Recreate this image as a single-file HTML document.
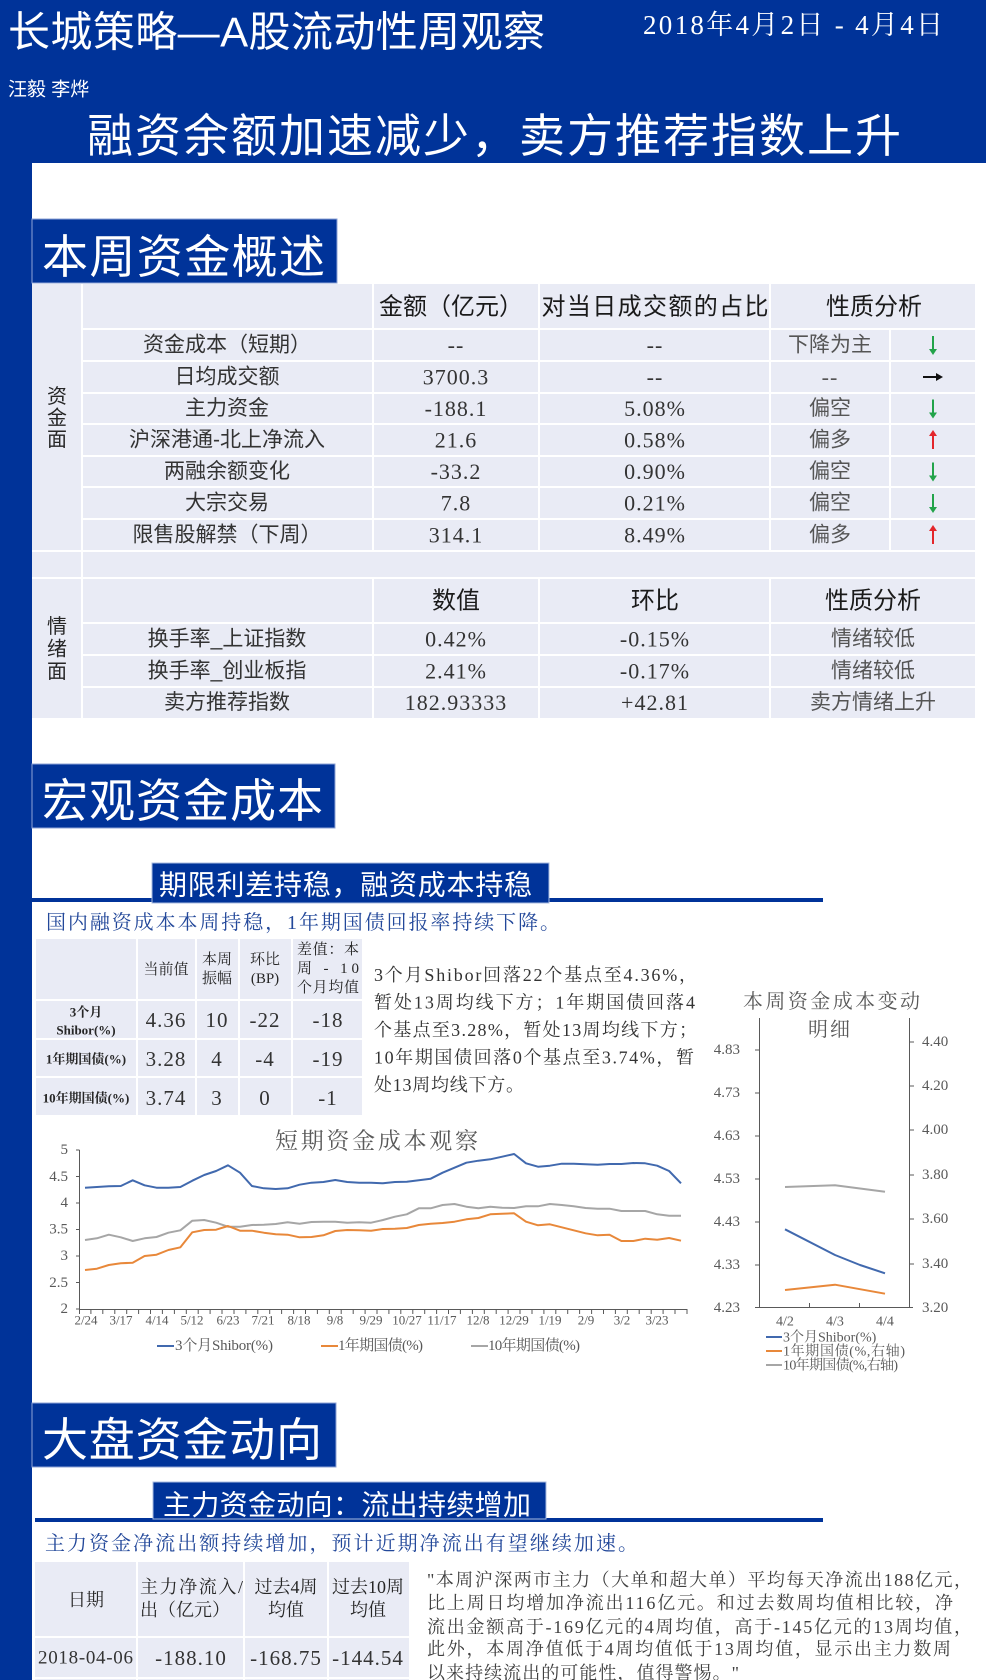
<!DOCTYPE html>
<html><head><meta charset="utf-8">
<style>
html,body{margin:0;padding:0;background:#fff;}
body{width:986px;height:1680px;overflow:hidden;position:relative;}
svg{position:absolute;left:0;top:0;}
.s{font-family:"Liberation Sans","Noto Sans CJK SC",sans-serif;}
.r{font-family:"Liberation Serif","Noto Serif CJK SC",serif;}
.w{fill:#fff;}
text{dominant-baseline:central;}
</style></head>
<body>
<svg width="986" height="1680" viewBox="0 0 986 1680" xmlns="http://www.w3.org/2000/svg">
<!-- header -->
<rect x="0" y="0" width="986" height="163" fill="#003399"/>
<rect x="0" y="0" width="32" height="1680" fill="#003399"/>
<text class="s w" x="8" y="32" font-size="42" textLength="537" lengthAdjust="spacing">长城策略—A股流动性周观察</text>
<text class="r w" x="643" y="25" font-size="27" textLength="300" lengthAdjust="spacing">2018年4月2日 - 4月4日</text>
<text class="s w" x="8" y="90" font-size="19">汪毅 李烨</text>
<text class="s w" x="87" y="136" font-size="46" textLength="814" lengthAdjust="spacing">融资余额加速减少，卖方推荐指数上升</text>

<!-- section 1 -->
<rect x="32" y="219" width="305" height="64" fill="#003399" stroke="#8ea3d6" stroke-width="1"/>
<text class="s w" x="42" y="257" font-size="46" textLength="283" lengthAdjust="spacing">本周资金概述</text>

<rect x="32" y="284" width="943" height="434" fill="#e9ebf5"/>
<g stroke="#fff" stroke-width="2">
<path d="M82 329H975M82 361H975M82 393H975M82 424H975M82 456H975M82 487H975M82 519H975M32 551H975M32 578H975M82 623H975M82 655H975M82 687H975"/>
<path d="M82 284V718M373 284V551M539 284V551M770 284V551M890 329V551M373 578V718M539 578V718M770 578V718"/>
</g>
<g class="s" fill="#262626" font-size="20" text-anchor="middle">
<text x="57" y="397">资</text><text x="57" y="418.5">金</text><text x="57" y="440">面</text>
<text x="57" y="627">情</text><text x="57" y="649.5">绪</text><text x="57" y="672">面</text>
</g>
<g class="s" fill="#1a1a1a" font-size="24" text-anchor="middle">
<text x="451" y="307">金额（亿元）</text>
<text x="655" y="307" textLength="227" lengthAdjust="spacing">对当日成交额的占比</text>
<text x="874" y="307">性质分析</text>
<text x="456" y="601">数值</text>
<text x="655" y="601">环比</text>
<text x="873" y="601">性质分析</text>
</g>
<g class="s" fill="#333" font-size="21" text-anchor="middle">
<text x="227" y="345">资金成本（短期）</text>
<text x="227" y="377">日均成交额</text>
<text x="227" y="408.5">主力资金</text>
<text x="227" y="440">沪深港通-北上净流入</text>
<text x="227" y="471.5">两融余额变化</text>
<text x="227" y="503">大宗交易</text>
<text x="227" y="535">限售股解禁（下周）</text>
<text x="227" y="639">换手率_上证指数</text>
<text x="227" y="671">换手率_创业板指</text>
<text x="227" y="702.5">卖方推荐指数</text>
<text x="830" y="345" fill="#555">下降为主</text>
<text x="830" y="408.5" fill="#555">偏空</text>
<text x="830" y="440" fill="#555">偏多</text>
<text x="830" y="471.5" fill="#555">偏空</text>
<text x="830" y="503" fill="#555">偏空</text>
<text x="830" y="535" fill="#555">偏多</text>
<text x="873" y="639" fill="#555">情绪较低</text>
<text x="873" y="671" fill="#555">情绪较低</text>
<text x="873" y="702.5" fill="#555">卖方情绪上升</text>
</g>
<g class="r" fill="#333" font-size="22" text-anchor="middle" letter-spacing="1">
<text x="456" y="345">--</text><text x="655" y="345">--</text>
<text x="456" y="377">3700.3</text><text x="655" y="377">--</text><text x="830" y="377" fill="#555">--</text>
<text x="456" y="408.5">-188.1</text><text x="655" y="408.5">5.08%</text>
<text x="456" y="440">21.6</text><text x="655" y="440">0.58%</text>
<text x="456" y="471.5">-33.2</text><text x="655" y="471.5">0.90%</text>
<text x="456" y="503">7.8</text><text x="655" y="503">0.21%</text>
<text x="456" y="535">314.1</text><text x="655" y="535">8.49%</text>
<text x="456" y="639">0.42%</text><text x="655" y="639">-0.15%</text>
<text x="456" y="671">2.41%</text><text x="655" y="671">-0.17%</text>
<text x="456" y="702.5">182.93333</text><text x="655" y="702.5">+42.81</text>
</g>
<!-- arrows -->
<g stroke-width="2">
<g stroke="#22a34a" fill="#22a34a">
<path d="M933 336V350"/><polygon points="929,349 937,349 933,355" stroke="none"/>
<path d="M933 399.5V413.5"/><polygon points="929,412.5 937,412.5 933,418.5" stroke="none"/>
<path d="M933 462.5V476.5"/><polygon points="929,475.5 937,475.5 933,481.5" stroke="none"/>
<path d="M933 494V508"/><polygon points="929,507 937,507 933,513" stroke="none"/>
</g>
<g stroke="#e3262b" fill="#e3262b">
<path d="M933 435V449"/><polygon points="929,436 937,436 933,430" stroke="none"/>
<path d="M933 530V544"/><polygon points="929,531 937,531 933,525" stroke="none"/>
</g>
<g stroke="#111" fill="#111">
<path d="M923 377H937"/><polygon points="936,373 936,381 943,377" stroke="none"/>
</g>
</g>

<!-- section 2 -->
<rect x="32" y="764" width="303" height="64" fill="#003399" stroke="#8ea3d6" stroke-width="1"/>
<text class="s w" x="42" y="801" font-size="46" textLength="281" lengthAdjust="spacing">宏观资金成本</text>
<rect x="32" y="898" width="791" height="4" fill="#003399"/>
<rect x="152" y="863" width="397" height="40" fill="#003399" stroke="#a9bbe0" stroke-width="1"/>
<text class="s w" x="159" y="885" font-size="28" textLength="373" lengthAdjust="spacing">期限利差持稳，融资成本持稳</text>
<text class="r" x="46" y="923" font-size="20" fill="#23489a" textLength="514" lengthAdjust="spacing">国内融资成本本周持稳，1年期国债回报率持续下降。</text>

<rect x="36" y="939" width="326" height="176" fill="#e9ebf5"/>
<g stroke="#fff" stroke-width="2">
<path d="M36 1000H362M36 1039H362M36 1077H362M137 939V1115M196 939V1115M239 939V1115M292 939V1115"/>
</g>
<g class="r" fill="#262626" font-size="15" text-anchor="middle">
<text x="166" y="970">当前值</text>
<text x="217" y="960">本周</text><text x="217" y="979">振幅</text>
<text x="265" y="960">环比</text><text x="265" y="979">(BP)</text>
</g>
<g class="r" fill="#262626" font-size="15">
<text x="297" y="950" textLength="62" lengthAdjust="spacing">差值：本</text>
<text x="297" y="969" textLength="62" lengthAdjust="spacing">周 - 10</text>
<text x="297" y="988" textLength="62" lengthAdjust="spacing">个月均值</text>
</g>
<g class="r" fill="#262626" font-size="13" font-weight="bold" text-anchor="middle">
<text x="86" y="1012">3个月</text>
<text x="86" y="1030">Shibor(%)</text>
<text x="86" y="1059">1年期国债(%)</text>
<text x="86" y="1098">10年期国债(%)</text>
</g>
<g class="r" fill="#333" font-size="21" text-anchor="middle" letter-spacing="1">
<text x="166" y="1020">4.36</text><text x="217" y="1020">10</text><text x="265" y="1020">-22</text><text x="328" y="1020">-18</text>
<text x="166" y="1059">3.28</text><text x="217" y="1059">4</text><text x="265" y="1059">-4</text><text x="328" y="1059">-19</text>
<text x="166" y="1098">3.74</text><text x="217" y="1098">3</text><text x="265" y="1098">0</text><text x="328" y="1098">-1</text>
</g>
<g class="r" fill="#333" font-size="18">
<text x="374" y="975" textLength="323" lengthAdjust="spacing">3个月Shibor回落22个基点至4.36%，</text>
<text x="374" y="1002.5" textLength="321" lengthAdjust="spacing">暂处13周均线下方；1年期国债回落4</text>
<text x="374" y="1030" textLength="323" lengthAdjust="spacing">个基点至3.28%，暂处13周均线下方；</text>
<text x="374" y="1057.5" textLength="320" lengthAdjust="spacing">10年期国债回落0个基点至3.74%，暂</text>
<text x="374" y="1085" textLength="150" lengthAdjust="spacing">处13周均线下方。</text>
</g>

<!-- main chart -->
<text class="r" x="275" y="1141" font-size="23" fill="#595959" textLength="203" lengthAdjust="spacing">短期资金成本观察</text>
<g stroke="#595959" stroke-width="1" fill="none">
<path d="M79.5 1150V1309.5H687"/>
<path d="M76 1150H79.5M76 1176.5H79.5M76 1203H79.5M76 1229.5H79.5M76 1256H79.5M76 1282.5H79.5M76 1309H79.5"/>
<path d="M79.5 1309v5M90.9 1309v5M102.8 1309v5M114.8 1309v5M126.7 1309v5M138.6 1309v5M150.5 1309v5M162.4 1309v5M174.4 1309v5M186.3 1309v5M198.2 1309v5M210.1 1309v5M222 1309v5M234 1309v5M245.9 1309v5M257.8 1309v5M269.7 1309v5M281.6 1309v5M293.6 1309v5M305.5 1309v5M317.4 1309v5M329.3 1309v5M341.2 1309v5M353.2 1309v5M365.1 1309v5M377 1309v5M388.9 1309v5M400.8 1309v5M412.8 1309v5M424.7 1309v5M436.6 1309v5M448.5 1309v5M460.4 1309v5M472.4 1309v5M484.3 1309v5M496.2 1309v5M508.1 1309v5M520 1309v5M532 1309v5M543.9 1309v5M555.8 1309v5M567.7 1309v5M579.6 1309v5M591.6 1309v5M603.5 1309v5M615.4 1309v5M627.3 1309v5M639.2 1309v5M651.2 1309v5M663.1 1309v5M675 1309v5M687 1309v5"/>
</g>
<g class="r" fill="#595959" font-size="15" text-anchor="end">
<text x="68" y="1150">5</text><text x="68" y="1177">4.5</text><text x="68" y="1203">4</text><text x="68" y="1229.5">3.5</text><text x="68" y="1256">3</text><text x="68" y="1283">2.5</text><text x="68" y="1309">2</text>
</g>
<g class="r" fill="#595959" font-size="13" text-anchor="middle">
<text x="86" y="1320">2/24</text><text x="121" y="1320">3/17</text><text x="157" y="1320">4/14</text><text x="192" y="1320">5/12</text><text x="228" y="1320">6/23</text><text x="263" y="1320">7/21</text><text x="299" y="1320">8/18</text><text x="335" y="1320">9/8</text><text x="371" y="1320">9/29</text><text x="407" y="1320">10/27</text><text x="442" y="1320">11/17</text><text x="478" y="1320">12/8</text><text x="514" y="1320">12/29</text><text x="550" y="1320">1/19</text><text x="586" y="1320">2/9</text><text x="622" y="1320">3/2</text><text x="657" y="1320">3/23</text>
</g>
<g fill="none" stroke-width="2" stroke-linejoin="round">
<polyline stroke="#a6a6a6" points="85,1240 96.9,1238.3 108.8,1234.7 120.8,1237.3 132.7,1241 144.6,1238.3 156.5,1237 168.4,1232.7 180.4,1230.3 192.3,1220.7 204.2,1220 216.1,1222.7 228,1226.7 240,1226.7 251.9,1225 263.8,1224.7 275.7,1224 287.6,1222.3 299.6,1223.7 311.5,1222 323.4,1221.7 335.3,1221.7 347.2,1222.7 359.2,1222.3 371.1,1222.7 383,1220 394.9,1216.7 406.8,1214.3 418.8,1208.3 430.7,1208.3 442.6,1205 454.5,1204 466.4,1206.7 478.4,1208.3 490.3,1206.7 502.2,1207.7 514.1,1208 526,1206.3 538,1206.3 549.9,1204 561.8,1205 573.7,1206.3 585.6,1208 597.6,1208.7 609.5,1208.7 621.4,1211 633.3,1211 645.2,1211 657.2,1214.3 669.1,1215.7 681,1215.7"/>
<polyline stroke="#e8883a" points="85,1270 96.9,1268.7 108.8,1265 120.8,1263.3 132.7,1262.7 144.6,1256 156.5,1254.7 168.4,1250 180.4,1247.3 192.3,1232.3 204.2,1230 216.1,1229.7 228,1226 240,1230.7 251.9,1230.7 263.8,1232.7 275.7,1234.3 287.6,1234.7 299.6,1237.3 311.5,1237 323.4,1235.3 335.3,1231 347.2,1230 359.2,1230.3 371.1,1230.7 383,1229 394.9,1228.7 406.8,1228 418.8,1225 430.7,1223.7 442.6,1223 454.5,1221.7 466.4,1219.3 478.4,1218 490.3,1214.3 502.2,1213.7 514.1,1213.3 526,1221.7 538,1225.3 549.9,1224.3 561.8,1227.3 573.7,1230.3 585.6,1233.3 597.6,1235.3 609.5,1234.7 621.4,1241 633.3,1241 645.2,1238.7 657.2,1239.7 669.1,1238 681,1240.7"/>
<polyline stroke="#4169ae" points="85,1187.7 96.9,1187 108.8,1186.3 120.8,1186 132.7,1180.3 144.6,1185.3 156.5,1187.7 168.4,1187.7 180.4,1187 192.3,1180.7 204.2,1175 216.1,1171 228,1165.3 240,1172.7 251.9,1186 263.8,1188.3 275.7,1189 287.6,1188.3 299.6,1184.7 311.5,1182.7 323.4,1182 335.3,1180 347.2,1182 359.2,1182.7 371.1,1182.7 383,1183.3 394.9,1182 406.8,1181.7 418.8,1180.3 430.7,1178.7 442.6,1172.7 454.5,1167.7 466.4,1162.7 478.4,1160.7 490.3,1159.3 502.2,1156.7 514.1,1154 526,1163.3 538,1166.7 549.9,1165.7 561.8,1163.7 573.7,1163.7 585.6,1164.3 597.6,1164.7 609.5,1164 621.4,1164 633.3,1163 645.2,1163.3 657.2,1165.7 669.1,1171 681,1183.3"/>
</g>
<g stroke-width="2">
<path d="M157 1346H174" stroke="#4169ae"/>
<path d="M321 1346H338" stroke="#e8883a"/>
<path d="M471 1346H488" stroke="#a6a6a6"/>
</g>
<g class="r" fill="#595959" font-size="15">
<text x="175" y="1346" textLength="98" lengthAdjust="spacing">3个月Shibor(%)</text>
<text x="338" y="1346" textLength="85" lengthAdjust="spacing">1年期国债(%)</text>
<text x="488" y="1346" textLength="92" lengthAdjust="spacing">10年期国债(%)</text>
</g>

<!-- right chart -->
<text class="r" x="743" y="1002" font-size="20" fill="#595959" textLength="177" lengthAdjust="spacing">本周资金成本变动</text>
<text class="r" x="830" y="1030" font-size="20" fill="#595959" text-anchor="middle" letter-spacing="2">明细</text>
<g stroke="#595959" stroke-width="1" fill="none">
<path d="M759.5 1018V1307.5M909.5 1018V1307.5M755 1307.5H913"/>
<path d="M755 1050H759.5M755 1093H759.5M755 1136H759.5M755 1179H759.5M755 1222H759.5M755 1265H759.5"/>
<path d="M909.5 1042H914M909.5 1086H914M909.5 1130H914M909.5 1175H914M909.5 1219H914M909.5 1264H914"/>
<path d="M809.5 1303V1307.5M859.5 1303V1307.5"/>
</g>
<g class="r" fill="#595959" font-size="15" text-anchor="end">
<text x="740" y="1050">4.83</text><text x="740" y="1093">4.73</text><text x="740" y="1136">4.63</text><text x="740" y="1179">4.53</text><text x="740" y="1222">4.43</text><text x="740" y="1265">4.33</text><text x="740" y="1308">4.23</text>
</g>
<g class="r" fill="#595959" font-size="15">
<text x="922" y="1042">4.40</text><text x="922" y="1086">4.20</text><text x="922" y="1130">4.00</text><text x="922" y="1175">3.80</text><text x="922" y="1219">3.60</text><text x="922" y="1264">3.40</text><text x="922" y="1308">3.20</text>
</g>
<g class="r" fill="#595959" font-size="14" text-anchor="middle">
<text x="785" y="1322">4/2</text><text x="835" y="1322">4/3</text><text x="885" y="1322">4/4</text>
</g>
<g fill="none" stroke-width="2" stroke-linejoin="round">
<polyline stroke="#a6a6a6" points="785,1187 835,1185.3 885,1191.7"/>
<polyline stroke="#4169ae" points="785,1229.3 835,1255 860,1265 885,1273.3"/>
<polyline stroke="#e8883a" points="785,1290 835,1284.7 885,1293.7"/>
</g>
<g stroke-width="2">
<path d="M766 1337H782" stroke="#4169ae"/>
<path d="M766 1351H782" stroke="#e8883a"/>
<path d="M766 1365H782" stroke="#a6a6a6"/>
</g>
<g class="r" fill="#595959" font-size="14">
<text x="783" y="1338">3个月Shibor(%)</text>
<text x="783" y="1352" textLength="122" lengthAdjust="spacing">1年期国债(%,右轴)</text>
<text x="783" y="1366" textLength="115" lengthAdjust="spacing">10年期国债(%,右轴)</text>
</g>

<!-- section 3 -->
<rect x="32" y="1403" width="304" height="64" fill="#003399" stroke="#8ea3d6" stroke-width="1"/>
<text class="s w" x="42" y="1440" font-size="46" textLength="280" lengthAdjust="spacing">大盘资金动向</text>
<rect x="35" y="1518" width="788" height="4" fill="#003399"/>
<rect x="153" y="1482" width="393" height="37" fill="#003399" stroke="#a9bbe0" stroke-width="1"/>
<text class="s w" x="163" y="1505" font-size="28" textLength="368" lengthAdjust="spacing">主力资金动向：流出持续增加</text>
<text class="r" x="45" y="1544" font-size="20" fill="#23489a" textLength="593" lengthAdjust="spacing">主力资金净流出额持续增加，预计近期净流出有望继续加速。</text>

<rect x="35" y="1562" width="374" height="118" fill="#e9ebf5"/>
<g stroke="#fff" stroke-width="2">
<path d="M35 1637H409M35 1678H409M137 1562V1680M244 1562V1680M328 1562V1680"/>
</g>
<g class="r" fill="#262626" font-size="18" text-anchor="middle">
<text x="86" y="1600">日期</text>
<text x="286" y="1587">过去4周</text><text x="286" y="1610">均值</text>
<text x="368" y="1587">过去10周</text><text x="368" y="1610">均值</text>
</g>
<g class="r" fill="#262626" font-size="18">
<text x="140" y="1587" textLength="103" lengthAdjust="spacing">主力净流入/</text>
<text x="140" y="1610" textLength="90" lengthAdjust="spacing">出（亿元）</text>
</g>
<text class="r" x="38" y="1658" font-size="19" fill="#333" textLength="95" lengthAdjust="spacing">2018-04-06</text>
<g class="r" fill="#333" font-size="21" text-anchor="middle" letter-spacing="1">
<text x="191" y="1658">-188.10</text><text x="286" y="1658">-168.75</text><text x="368" y="1658">-144.54</text>
</g>
<g class="r" fill="#404040" font-size="18">
<text x="427" y="1580" textLength="545" lengthAdjust="spacing">"本周沪深两市主力（大单和超大单）平均每天净流出188亿元，</text>
<text x="427" y="1603" textLength="526" lengthAdjust="spacing">比上周日均增加净流出116亿元。和过去数周均值相比较，净</text>
<text x="427" y="1627" textLength="545" lengthAdjust="spacing">流出金额高于-169亿元的4周均值，高于-145亿元的13周均值，</text>
<text x="427" y="1649" textLength="524" lengthAdjust="spacing">此外，本周净值低于4周均值低于13周均值，显示出主力数周</text>
<text x="427" y="1673" textLength="312" lengthAdjust="spacing">以来持续流出的可能性，值得警惕。"</text>
</g>
</svg>
</body></html>
